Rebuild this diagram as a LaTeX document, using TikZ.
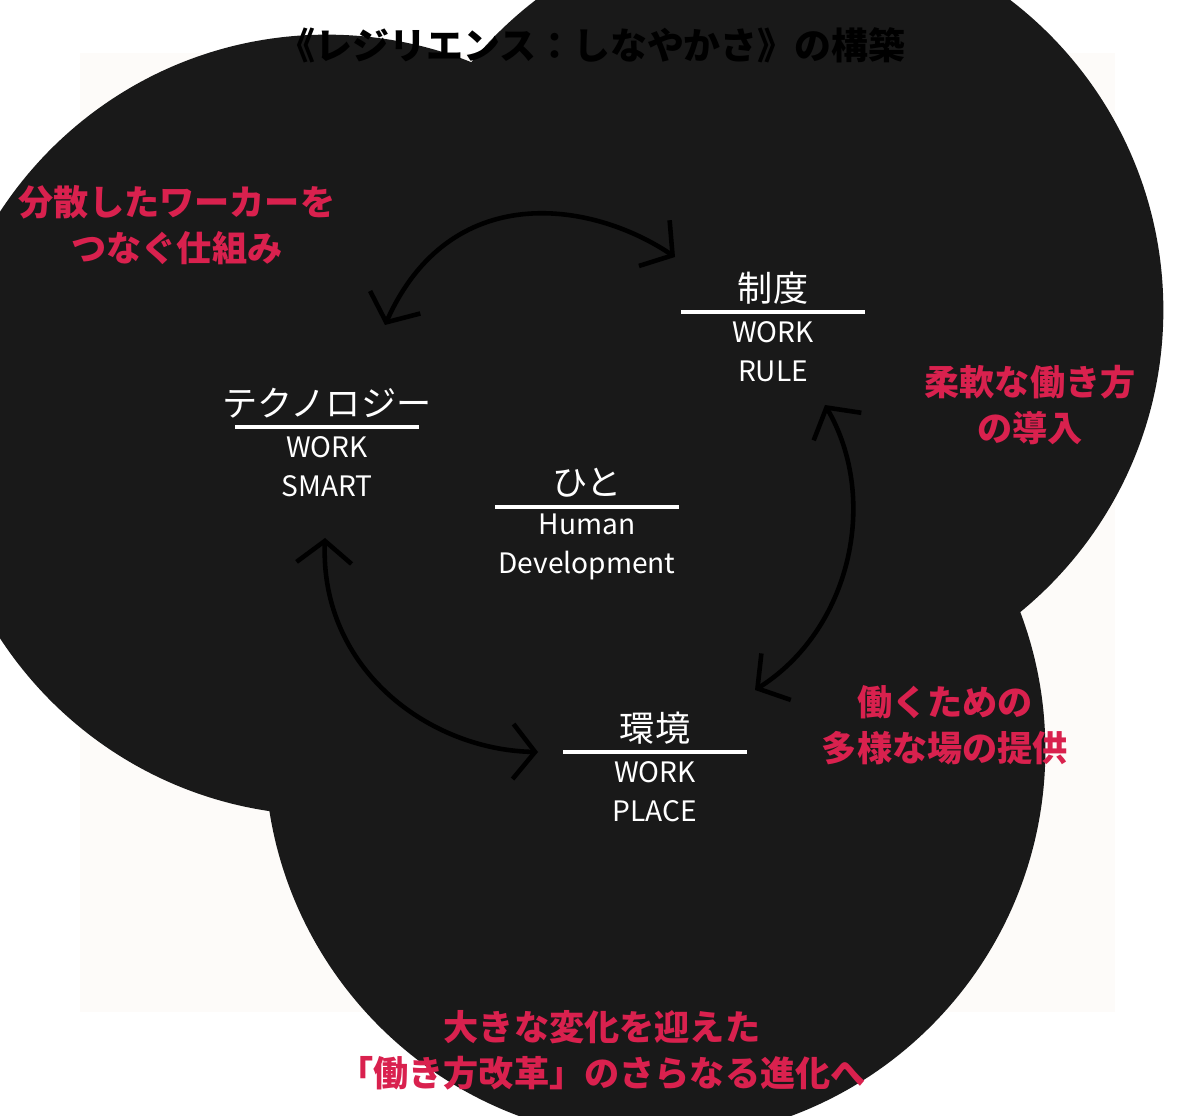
\documentclass[tikz,border=0pt]{standalone}
\usepackage{fontspec}
\setmainfont{Noto Sans CJK JP}
\usetikzlibrary{arrows.meta,calc}
\definecolor{halo}{HTML}{D97B6C}
\definecolor{ring}{HTML}{DB7A68}
\definecolor{accent}{HTML}{D9214E}
\definecolor{paper}{HTML}{FDFBF9}
\def\rin{215}
\def\rout{240}

\begin{document}
\begin{tikzpicture}[x=0.01cm,y=-0.01cm]
    \tikzset{%
      core/.style={circle, fill=black!90, minimum size=222, inner sep=0pt},
      ringline/.style={ring, line width=1.4pt},
      link/.style={line width=2.2pt},
      cycle/.style={line width=1.3pt, {Straight Barb[length=2.2mm,width=5.5mm]}-{Straight Barb[length=2.2mm,width=5.5mm]}},
      jp/.style={text=white, font=\fontsize{10}{12}\selectfont},
      en/.style={text=white, font=\fontsize{8}{11}\selectfont, align=center},
      note/.style={text=accent, font=\bfseries\fontsize{10}{13}\selectfont, align=center}}

    \useasboundingbox (0,0) rectangle (1200,1116);
    \fill[paper] (80,53) rectangle (1115,1012);

    % outer rings
    \foreach \r in {\rin,\rout}{
      \draw[ringline] (327,425) ++(250:\r) arc (250:58:\r);
      \draw[ringline] (773,310) ++(200:\r) arc (200:460:\r);
      \draw[ringline] (655,750) ++(180:\r) arc (180:-45:\r);
    }

    % halos
    \fill[halo] (327,425) circle (164);
    \fill[halo] (773,310) circle (166);
    \fill[halo] (655,750) circle (166);
    \fill[halo] (590,490) circle (160);

    % links under the cores
    \coordinate (tc) at (327,425);
    \coordinate (rc) at (773,310);
    \coordinate (pc) at (655,750);
    \draw[link] (tc) -- (rc);
    \draw[link] (rc) -- (pc);
    \draw[link] (tc) -- (pc);

    % cores
    \node[core] (tech) at (tc) {};
    \node[core] (rule) at (rc) {};
    \node[core] (place) at (pc) {};
    \node[core] (human) at (587,505) {};

    % labels in cores
    \foreach \n/\j/\e in {tech/テクノロジー/{WORK\\SMART}, rule/制度/{WORK\\RULE}, place/環境/{WORK\\PLACE}, human/ひと/{Human\\Development}}{
      \node[jp] (\n-jp) at ($(\n)+(0,-22)$) {\j};
      \draw[white, line width=1.2pt] ($(\n)+(-92,2)$) -- ($(\n)+(92,2)$);
      \node[en] (\n-en) at ($(\n)+(0,42)$) {\e};
    }

    % cycle arrows
    \coordinate (a1) at (385,325);
    \coordinate (a2) at (675,257);
    \coordinate (b1) at (825,405);
    \coordinate (b2) at (755,690);
    \coordinate (c1) at (325,538);
    \coordinate (c2) at (538,752);
    \draw[cycle] (a1) .. controls (450,180) and (590,200) .. (a2);
    \draw[cycle] (b1) .. controls (880,500) and (850,630) .. (b2);
    \draw[cycle] (c1) .. controls (320,670) and (430,750) .. (c2);

    % texts
    \node[font=\bfseries\fontsize{10.5}{13}\selectfont] (title) at (592,45) {《レジリエンス：しなやかさ》の構築};
    \node[note] (n1) at (177,225) {分散したワーカーを\\つなぐ仕組み};
    \node[note] (n2) at (1030,405) {柔軟な働き方\\の導入};
    \node[note] (n3) at (945,725) {働くための\\多様な場の提供};
    \node[note] (n4) at (602,1050) {大きな変化を迎えた\\「働き方改革」のさらなる進化へ};
\end{tikzpicture}
\end{document}
